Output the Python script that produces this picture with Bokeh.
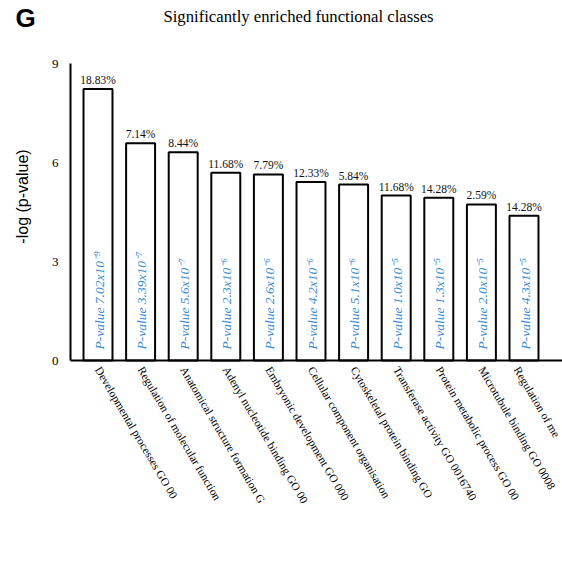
import math
from bokeh.plotting import figure
from bokeh.models import FixedTicker, Label, ColumnDataSource, Range1d
from bokeh.core.properties import value
from bokeh.embed import file_html
from bokeh.resources import INLINE

# ---- data ----
categories = [
    "Developmental processes GO 00",
    "Regulation of molecular function",
    "Anatomical structure formation G",
    "Adenyl nucleotide binding GO 00",
    "Embryonic development GO 000",
    "Cellular component organisation",
    "Cytoskeletal protein binding GO",
    "Transferase activity GO 0016740",
    "Protein metabolic process GO 00",
    "Microtubule binding GO 0008",
    "Regulation of me",
]
neg_log_p = [8.23, 6.58, 6.31, 5.69, 5.64, 5.41, 5.33, 5.00, 4.93, 4.73, 4.39]
percent_labels = ["18.83%", "7.14%", "8.44%", "11.68%", "7.79%", "12.33%",
                  "5.84%", "11.68%", "14.28%", "2.59%", "14.28%"]
pvalue_labels = ["P-value 7.02x10\u207b\u2079", "P-value 3.39x10\u207b\u2077",
                 "P-value 5.6x10\u207b\u2077", "P-value 2.3x10\u207b\u2076",
                 "P-value 2.6x10\u207b\u2076", "P-value 4.2x10\u207b\u2076",
                 "P-value 5.1x10\u207b\u2076", "P-value 1.0x10\u207b\u2075",
                 "P-value 1.3x10\u207b\u2075", "P-value 2.0x10\u207b\u2075",
                 "P-value 4.3x10\u207b\u2075"]
y_ticks = [0, 3, 6, 9]
y_axis_max = 9
title_text = "Significantly enriched functional classes"
y_label = "-log (p-value)"
panel_letter = "G"

xs = list(range(1, len(categories) + 1))
src = ColumnDataSource(dict(x=xs, top=neg_log_p, pct=percent_labels,
                            pv=pvalue_labels, zero=[0] * len(xs)))

# ---- layout (pixels) ----
W, H = 562, 550
PX_PER_X = 42.6       # pixels per category step
PX_PER_Y = 33.0       # pixels per y unit
FIRST_BAR_PX = 97.5   # canvas x of first bar centre
ZERO_PX = 360         # canvas y of the baseline
AXIS_LEFT_PX = 70     # canvas x of the y axis line


def x_at(px):
    return xs[0] + (px - FIRST_BAR_PX) / PX_PER_X


def y_at(py):
    return (ZERO_PX - py) / PX_PER_Y


p = figure(width=W, height=H, title=None,
           x_range=Range1d(x_at(0), x_at(W)), y_range=Range1d(y_at(H), y_at(0)),
           output_backend="svg", toolbar_location=None, min_border=0)
p.outline_line_color = None
p.xgrid.visible = False
p.ygrid.visible = False
p.background_fill_color = "white"
p.border_fill_color = "white"

serif = "Liberation Serif"

# y axis
p.yaxis.fixed_location = x_at(AXIS_LEFT_PX)
p.yaxis.bounds = (0, y_axis_max)
p.yaxis.ticker = FixedTicker(ticks=y_ticks)
p.yaxis.axis_line_width = 2
p.yaxis.axis_line_color = "black"
p.yaxis.major_tick_line_color = None
p.yaxis.minor_tick_line_color = None
p.yaxis.major_tick_out = 0
p.yaxis.major_tick_in = 0
p.yaxis.major_label_standoff = 12
p.yaxis.major_label_text_font = serif
p.yaxis.major_label_text_font_size = "13px"
p.yaxis.major_label_text_color = "black"

# x axis
p.xaxis.fixed_location = 0
p.xaxis.bounds = (x_at(AXIS_LEFT_PX), x_at(W))
p.xaxis.ticker = FixedTicker(ticks=xs)
p.xaxis.major_label_overrides = {x: c for x, c in zip(xs, categories)}
p.xaxis.major_label_orientation = -math.radians(59.5)
p.xaxis.axis_line_width = 2
p.xaxis.axis_line_color = "black"
p.xaxis.major_tick_line_color = None
p.xaxis.minor_tick_line_color = None
p.xaxis.major_tick_out = 0
p.xaxis.major_tick_in = 0
p.xaxis.major_label_standoff = 7
p.xaxis.major_label_text_font = serif
p.xaxis.major_label_text_font_size = "11.5px"
p.xaxis.major_label_text_color = "black"

# bars
p.vbar(x="x", top="top", width=0.68, source=src, fill_color="white",
       line_color="black", line_width=2)

# percent labels above bars
p.text(x="x", y="top", text="pct", source=src, text_align="center",
       text_baseline="alphabetic", y_offset=-9,
       text_font=value(serif), text_font_size="11.5px", text_color="#111111")

# p-value labels inside bars
p.text(x="x", y="zero", text="pv", source=src, angle=math.pi / 2,
       text_align="left", text_baseline="middle", y_offset=-11, x_offset=1,
       text_font=value(serif), text_font_style="italic",
       text_font_size="13.5px", text_color="#3a8ad6")

# title
p.add_layout(Label(x=x_at(298), y=y_at(16), text=title_text,
                   text_align="center", text_baseline="alphabetic",
                   text_font=serif, text_font_size="16.7px", text_color="black"))
# panel letter
p.add_layout(Label(x=x_at(15), y=y_at(17), text=panel_letter,
                   text_align="left", text_baseline="alphabetic",
                   text_font="Liberation Sans", text_font_style="bold",
                   text_font_size="26px", text_color="black"))
# y axis label
p.add_layout(Label(x=x_at(22), y=y_at(196), text=y_label, angle=math.pi / 2,
                   text_align="center", text_baseline="middle",
                   text_font="Liberation Sans", text_font_size="16px",
                   text_color="black"))

open("out.html", "w").write(file_html(p, INLINE))
